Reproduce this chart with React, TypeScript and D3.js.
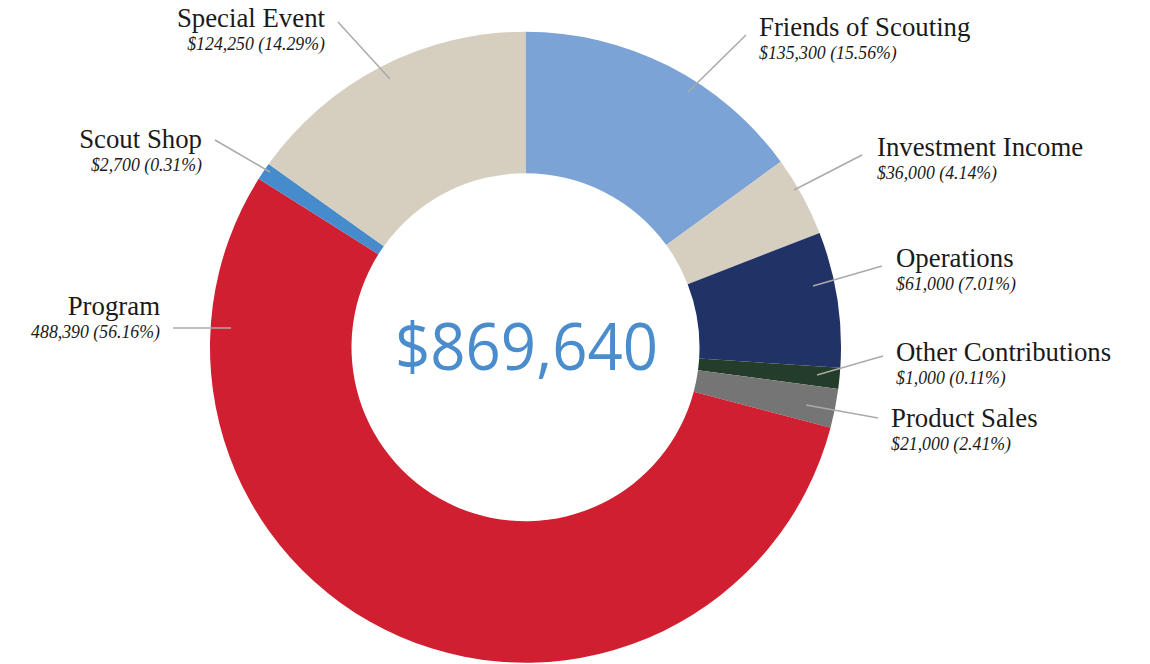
import React from "react";
import * as d3 from "d3";

// ---- data ----
const categories = [
  "Friends of Scouting",
  "Investment Income",
  "Operations",
  "Other Contributions",
  "Product Sales",
  "Program",
  "Scout Shop",
  "Special Event",
];
const amounts = [135300, 36000, 61000, 1000, 21000, 488390, 2700, 124250];
const percentLabels = ["15.56%", "4.14%", "7.01%", "0.11%", "2.41%", "56.16%", "0.31%", "14.29%"];
const showDollar = [true, true, true, true, true, false, true, true];
// share of the ring each slice occupies as drawn (percent of the circle)
const sliceShare = [15.0, 4.1, 6.94, 1.07, 2.0, 54.85, 0.9, 15.14];
const sliceColors = ["#7ba3d6", "#d6cfc0", "#213366", "#243d2b", "#757575", "#d01f30", "#468bcb", "#d6cfc0"];
const totalLabel = "$869,640";

// ---- layout (positions of annotations) ----
const W = 1150;
const H = 664;
const cx = 525.5;
const cy = 347.2;
const rOuter = 315.5;
const rInner = 174;

type LabelLayout = { x: number; y: number; anchor: "start" | "end"; line: [number, number, number, number] };
const labelLayout: LabelLayout[] = [
  { x: 759, y: 36, anchor: "start", line: [746, 35, 688, 92] },
  { x: 877, y: 156, anchor: "start", line: [862, 155, 794, 190] },
  { x: 896, y: 267, anchor: "start", line: [882, 266, 813, 286] },
  { x: 896, y: 361, anchor: "start", line: [883, 356, 817, 375] },
  { x: 891, y: 427, anchor: "start", line: [878, 418, 806, 405] },
  { x: 160, y: 315, anchor: "end", line: [173, 328, 231, 328] },
  { x: 202, y: 148, anchor: "end", line: [215, 140, 270, 172] },
  { x: 325, y: 27, anchor: "end", line: [338, 22, 390, 79] },
];

const fmt = d3.format(",");

export default function App() {
  const items = categories.map((c, i) => ({ name: c, share: sliceShare[i], i }));
  const pie = d3
    .pie<{ name: string; share: number; i: number }>()
    .sort(null)
    .value((d) => d.share);
  const arcs = pie(items);
  const arc = d3
    .arc<d3.PieArcDatum<{ name: string; share: number; i: number }>>()
    .innerRadius(rInner)
    .outerRadius(rOuter);

  return (
    <svg
      width={W}
      height={H}
      style={{ position: "absolute", left: 0, top: 0, background: "#fff" }}
    >
      <g transform={`translate(${cx},${cy})`}>
        {arcs.map((a) => (
          <path key={a.data.name} d={arc(a) || ""} fill={sliceColors[a.data.i]} />
        ))}
      </g>
      {categories.map((c, i) => {
        const L = labelLayout[i];
        const sub = `${showDollar[i] ? "$" : ""}${fmt(amounts[i])} (${percentLabels[i]})`;
        return (
          <g key={c}>
            <line
              x1={L.line[0]}
              y1={L.line[1]}
              x2={L.line[2]}
              y2={L.line[3]}
              stroke="#aaaaaa"
              strokeWidth={1.5}
            />
            <text
              x={L.x}
              y={L.y}
              textAnchor={L.anchor}
              fontFamily="'Liberation Serif', serif"
              fontSize={26.8}
              fill="#1a1a1a"
            >
              {c}
            </text>
            <text
              x={L.x}
              y={L.y + 22.5}
              textAnchor={L.anchor}
              fontFamily="'Liberation Serif', serif"
              fontStyle="italic"
              fontSize={17.8}
              fill="#1a1a1a"
            >
              {sub}
            </text>
          </g>
        );
      })}
      <text
        x={526.5}
        y={370}
        textAnchor="middle"
        fontFamily="'Open Sans', sans-serif"
        fontSize={65}
        fill="#4a8ccc"
        textLength={263}
        lengthAdjust="spacingAndGlyphs"
      >
        {totalLabel}
      </text>
    </svg>
  );
}
